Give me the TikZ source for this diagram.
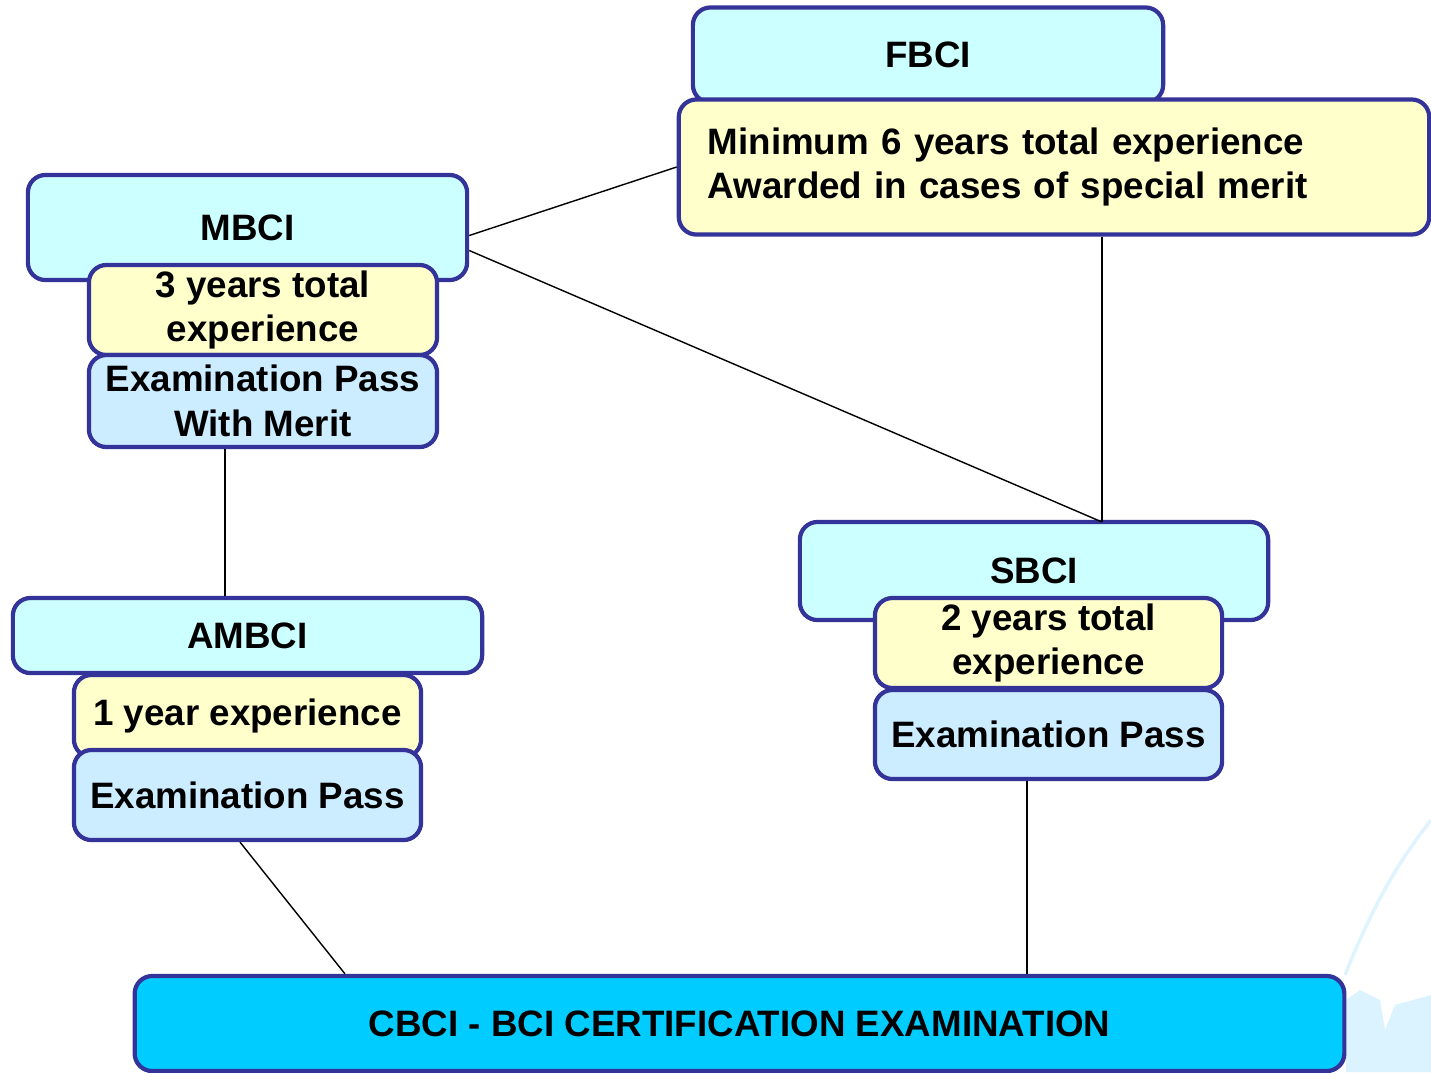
\documentclass[tikz,border=0pt]{standalone}
\usepackage{fontspec}
\setmainfont{Liberation Sans}
\usepackage{xcolor}
\usetikzlibrary{calc}

\definecolor{gradecyan}{HTML}{CCFFFF}
\definecolor{reqyellow}{HTML}{FFFFCC}
\definecolor{exblue}{HTML}{CCECFF}
\definecolor{basecyan}{HTML}{00CCFF}
\definecolor{edgeblue}{HTML}{333399}

\tikzset{
  box/.style={draw=edgeblue, line width=1.2pt, rounded corners=5pt, align=center,
    font=\fontsize{10.45}{12.6}\selectfont\bfseries, inner sep=0pt},
  grade/.style={box, fill=gradecyan},
  req/.style={box, fill=reqyellow},
  exam/.style={box, fill=exblue},
  link/.style={black, line width=0.4pt}
}

\begin{document}
\begin{tikzpicture}[x=0.01cm, y=-0.01cm]
    \useasboundingbox (0,0) rectangle (1431,1072);

    % watermark
    \draw [exblue!60, line width=1pt] (1345,975) .. controls (1375,900) and (1400,860) .. (1431,820);
    \fill [exblue!70] (1346,1000) -- (1360,990) -- (1380,1000) -- (1385,1030) -- (1395,1005) -- (1431,995) -- (1431,1072) -- (1346,1072) -- cycle;

    % FBCI
    \node [grade, minimum width=4.70cm, minimum height=0.95cm] (fbci) at (928,55) {\raisebox{-0.03cm}{FBCI}};
    \node [req, minimum width=7.50cm, minimum height=1.35cm, text width=6.92cm, align=left] (fbcitxt) at (1054,167)
      {\raisebox{-0.04cm}{Minimum 6 years total experience}\\\raisebox{-0.04cm}{Awarded in cases of special merit}};

    % MBCI
    \node [grade, minimum width=4.39cm, minimum height=1.05cm] (mbci) at (247.5,227.5) {MBCI};
    \node [req, minimum width=3.48cm, minimum height=0.90cm] (mbcireq) at (263,310)
      {\raisebox{-0.04cm}{3 years total}\\\raisebox{-0.04cm}{experience}};
    \node [exam, minimum width=3.48cm, minimum height=0.92cm] (mbciexam) at (263,401) {Examination Pass\\With Merit};

    % AMBCI
    \node [grade, minimum width=4.69cm, minimum height=0.75cm] (ambci) at (247.5,635.5) {AMBCI};
    \node [req, minimum width=3.47cm, minimum height=0.82cm] (ambcireq) at (247.5,716) {\raisebox{-0.06cm}{1 year experience}};
    \node [exam, minimum width=3.47cm, minimum height=0.90cm] (ambciexam) at (247.5,795) {Examination Pass};

    % SBCI
    \node [grade, minimum width=4.68cm, minimum height=0.98cm] (sbci) at (1034,571) {SBCI};
    \node [req, minimum width=3.47cm, minimum height=0.90cm] (sbcireq) at (1048.5,643)
      {\raisebox{-0.04cm}{2 years total}\\\raisebox{-0.04cm}{experience}};
    \node [exam, minimum width=3.47cm, minimum height=0.89cm] (sbciexam) at (1048.5,734.5) {Examination Pass};

    % CBCI
    \node [box, fill=basecyan, minimum width=12.09cm, minimum height=0.95cm] (cbci) at (739.5,1023.5)
      {CBCI - BCI CERTIFICATION EXAMINATION};

    % links
    \coordinate (sbcitop) at (1102,522);
    \draw [link] ($(mbci.east)+(0,8)$) -- (fbcitxt.west);
    \draw [link] ($(mbci.east)+(0,23)$) -- (sbcitop);
    \draw [link] (fbcitxt.south -| sbcitop) -- (sbcitop);
    \draw [link] (mbciexam.south -| 225,0) -- (ambci.north -| 225,0);
    \draw [link] (ambciexam.south -| 240,0) -- (cbci.north -| 345,0);
    \draw [link] (sbciexam.south -| 1027,0) -- (cbci.north -| 1027,0);
\end{tikzpicture}
\end{document}
